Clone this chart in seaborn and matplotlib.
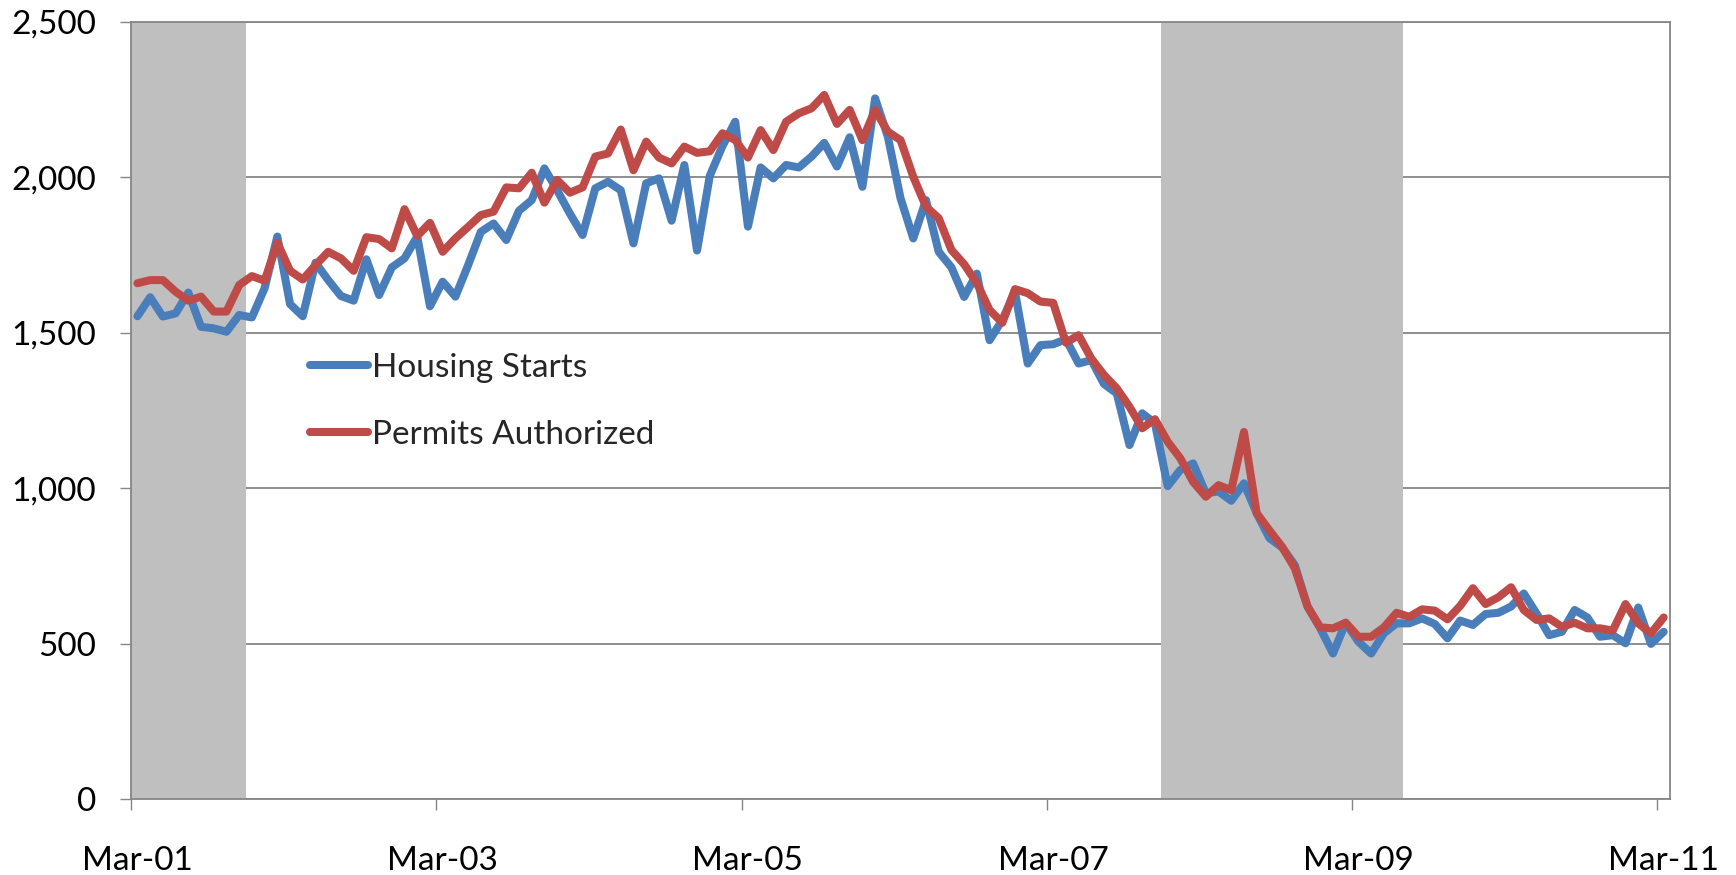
import numpy as np
import pandas as pd
import matplotlib
matplotlib.use("Agg")
import matplotlib.pyplot as plt
import seaborn as sns

# Monthly housing data, thousands of units (SAAR), Mar 2001 - Mar 2011
housing_starts = [
    1553, 1614, 1552, 1562, 1629, 1519, 1514, 1503, 1557, 1549, 1643, 1809,
    1592, 1553, 1725, 1669, 1618, 1603, 1736, 1621, 1710, 1739, 1809, 1585,
    1664, 1616, 1717, 1824, 1851, 1798, 1892, 1926, 2028, 1958, 1883, 1814,
    1964, 1985, 1958, 1787, 1980, 1996, 1860, 2039, 1764, 2004, 2100, 2178,
    1841, 2031, 1996, 2039, 2031, 2066, 2110, 2034, 2128, 1969, 2253, 2130,
    1932, 1803, 1926, 1760, 1710, 1615, 1690, 1476, 1541, 1631, 1401, 1460,
    1463, 1479, 1401, 1412, 1335, 1305, 1139, 1241, 1209, 1007, 1059, 1080,
    984, 990, 960, 1016, 920, 840, 810, 753, 620, 550, 469, 568,
    507, 469, 534, 566, 566, 582, 564, 518, 575, 561, 596, 600,
    620, 662, 598, 528, 539, 609, 585, 523, 528, 502, 617, 500,
    539,
]
permits_authorized = [
    1659, 1669, 1669, 1632, 1603, 1616, 1568, 1568, 1653, 1682, 1667, 1789,
    1699, 1671, 1717, 1760, 1739, 1699, 1807, 1801, 1771, 1897, 1811, 1853,
    1760, 1803, 1840, 1878, 1889, 1967, 1964, 2014, 1918, 1991, 1950, 1967,
    2066, 2076, 2153, 2022, 2114, 2063, 2044, 2098, 2078, 2083, 2141, 2119,
    2063, 2151, 2087, 2178, 2205, 2221, 2264, 2171, 2216, 2119, 2216, 2146,
    2119, 2001, 1905, 1868, 1766, 1720, 1659, 1573, 1532, 1640, 1627, 1600,
    1596, 1468, 1492, 1417, 1364, 1321, 1262, 1193, 1222, 1150, 1096, 1021,
    973, 1010, 994, 1181, 920, 865, 812, 743, 620, 553, 550, 568,
    523, 523, 553, 600, 587, 611, 607, 579, 622, 679, 628, 650,
    682, 609, 577, 582, 555, 568, 550, 550, 543, 628, 566, 534,
    585,
]
tick_labels = ["Mar-01", "Mar-03", "Mar-05", "Mar-07", "Mar-09", "Mar-11"]
# Recessions as (first month index, month index after the last month)
recessions = [(0, 9), (81, 100)]

n = len(housing_starts)
df = pd.DataFrame({
    # each month sits in the middle of its slot on the date axis
    "month": np.arange(n) + 0.5,
    "Housing Starts": housing_starts,
    "Permits Authorized": permits_authorized,
})
long_df = df.melt(id_vars="month", var_name="series", value_name="units")

sns.set_style("white")
plt.rcParams["font.family"] = ["Lato", "DejaVu Sans"]

fig = plt.figure(figsize=(17.36, 8.75), dpi=100)
ax = fig.add_axes([0.0755, 0.0863, 0.8865, 0.8891])

for start, end in recessions:
    ax.axvspan(start, end, color="#BFBFBF", lw=0, zorder=1)

sns.lineplot(
    data=long_df, x="month", y="units", hue="series",
    palette={"Housing Starts": "#4A7EBB", "Permits Authorized": "#BE4B48"},
    linewidth=5.8, ax=ax, zorder=3, legend=True,
)
for line in ax.get_lines():
    line.set_solid_joinstyle("round")
    line.set_solid_capstyle("round")

ax.set_xlim(0, 121)
ax.set_ylim(0, 2500)

# tick marks on the two-year boundaries, labels centred on the month
major_pos = np.arange(0, n, 24)
ax.set_xticks(major_pos)
ax.set_xticklabels([""] * len(major_pos))
ax.set_xticks(major_pos + 0.5, minor=True)
ax.set_xticklabels(tick_labels, minor=True)

ax.set_yticks(range(0, 2501, 500))
ax.yaxis.set_major_formatter(matplotlib.ticker.StrMethodFormatter("{x:,.0f}"))
ax.set_xlabel("")
ax.set_ylabel("")

ax.set_axisbelow(True)
ax.grid(axis="y", color="#868686", linewidth=1.3)
ax.grid(axis="x", visible=False)
for side in ["left", "bottom", "right", "top"]:
    ax.spines[side].set_color("#868686")
    ax.spines[side].set_linewidth(1.3)

ax.tick_params(axis="both", which="major", direction="out", length=8,
               width=1.0, color="#868686", labelsize=24, labelcolor="black")
ax.tick_params(axis="x", which="major", bottom=True)
ax.tick_params(axis="x", which="minor", bottom=True, length=0, pad=33.5,
               labelsize=24, labelcolor="black")
ax.tick_params(axis="y", pad=17, left=True)

handles, labels = ax.get_legend_handles_labels()
ax.legend(handles, labels, loc="center left", bbox_to_anchor=(0.1163, 0.512),
          frameon=False, fontsize=24, handlelength=1.74, handletextpad=0.12,
          labelspacing=1.1, borderpad=0, borderaxespad=0)

fig.savefig("out.png", dpi=100)
